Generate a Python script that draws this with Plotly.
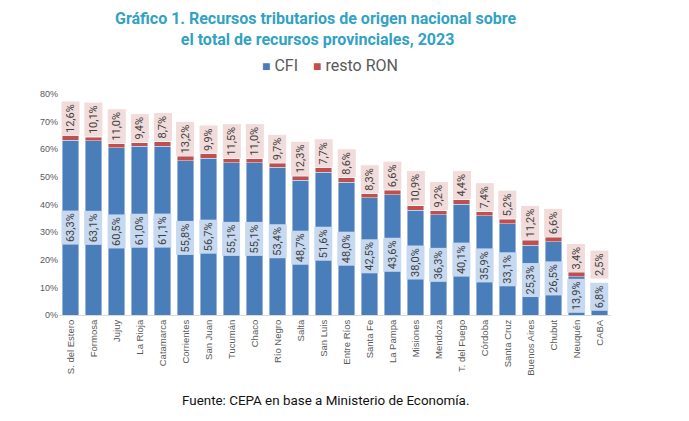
import plotly.graph_objects as go

# provincias ordenadas como en el grafico
provincias = ['S. del Estero', 'Formosa', 'Jujuy', 'La Rioja', 'Catamarca', 'Corrientes',
              'San Juan', 'Tucumán', 'Chaco', 'Río Negro', 'Salta', 'San Luis',
              'Entre Ríos', 'Santa Fe', 'La Pampa', 'Misiones', 'Mendoza', 'T. del Fuego',
              'Córdoba', 'Santa Cruz', 'Buenos Aires', 'Chubut', 'Neuquén', 'CABA']

# participacion CFI sobre recursos totales (%)
cfi = [63.3, 63.1, 60.5, 61.0, 61.1, 55.8, 56.7, 55.1, 55.1, 53.4, 48.7, 51.6,
       48.0, 42.5, 43.6, 38.0, 36.3, 40.1, 35.9, 33.1, 25.3, 26.5, 13.9, 6.8]

# resto RON (%), leido del alto del segmento rojo
resto_ron = [1.5, 1.3, 1.5, 1.4, 1.7, 1.6, 1.6, 1.5, 1.5, 1.5, 1.5, 1.7,
             1.7, 1.4, 1.6, 1.6, 1.5, 1.7, 1.5, 1.6, 1.7, 1.6, 1.5, 0.2]

# etiquetas que muestra el grafico original
etiquetas_cfi = ['63,3%', '63,1%', '60,5%', '61,0%', '61,1%', '55,8%', '56,7%', '55,1%',
                 '55,1%', '53,4%', '48,7%', '51,6%', '48,0%', '42,5%', '43,6%', '38,0%',
                 '36,3%', '40,1%', '35,9%', '33,1%', '25,3%', '26,5%', '13,9%', '6,8%']
etiquetas_ron = ['12,6%', '10,1%', '11,0%', '9,4%', '8,7%', '13,2%', '9,9%', '11,5%',
                 '11,0%', '9,7%', '12,3%', '7,7%', '8,6%', '8,3%', '6,6%', '10,9%',
                 '9,2%', '4,4%', '7,4%', '5,2%', '11,2%', '6,6%', '3,4%', '2,5%']

AZUL = '#4a7ebb'
ROJO = '#c0504d'
GRIS = '#595959'

fig = go.Figure()
fig.add_trace(go.Bar(x=provincias, y=cfi, name='CFI', marker_color=AZUL))
fig.add_trace(go.Bar(x=provincias, y=resto_ron, name='resto RON', marker_color=ROJO))

anotaciones = []
for prov, c, r, ec, er in zip(provincias, cfi, resto_ron, etiquetas_cfi, etiquetas_ron):
    y_cfi = max(c / 2, 6.6)
    anotaciones.append(dict(x=prov, y=y_cfi, text=ec, textangle=-90, showarrow=False,
                            xanchor='center', yanchor='middle', bgcolor='#c6d9f1',
                            height=13, borderpad=2,
                            font=dict(family='Roboto', size=11, color='#404040')))
    y_ron = max(c + r, y_cfi + 6.4)
    anotaciones.append(dict(x=prov, y=y_ron, text=er, textangle=-90, showarrow=False,
                            xanchor='center', yanchor='bottom', bgcolor='#f2dcdb',
                            height=13, borderpad=2,
                            font=dict(family='Roboto', size=11, color='#404040')))

# titulo, leyenda y fuente como anotaciones para no mover los margenes
anotaciones.append(dict(x=0.469, y=1.392, xref='paper', yref='paper', xanchor='center', yanchor='top',
                        text='<b>Gráfico 1. Recursos tributarios de origen nacional sobre <br>el total de recursos provinciales, 2023</b>',
                        showarrow=False,
                        font=dict(family='Roboto', size=16, color='#32a2c4')))
anotaciones.append(dict(x=0.364, y=1.131, xref='paper', yref='paper', xanchor='left', yanchor='middle',
                        text='<span style="color:%s;font-size:14px">■</span> CFI' % AZUL, showarrow=False,
                        font=dict(family='Roboto', size=16, color=GRIS)))
anotaciones.append(dict(x=0.456, y=1.131, xref='paper', yref='paper', xanchor='left', yanchor='middle',
                        text='<span style="color:%s;font-size:14px">■</span> resto RON' % ROJO, showarrow=False,
                        font=dict(family='Roboto', size=16, color=GRIS)))
anotaciones.append(dict(x=0.482, y=-0.385, xref='paper', yref='paper', xanchor='center', yanchor='middle',
                        text='Fuente: CEPA en base a Ministerio de Economía.', showarrow=False,
                        font=dict(family='Roboto', size=13.4, color='#111111')))

fig.update_layout(
    barmode='stack',
    bargap=0.28,
    width=681, height=413,
    margin=dict(l=51, r=78, t=86, b=106, autoexpand=False),
    paper_bgcolor='white', plot_bgcolor='white',
    showlegend=False,
    annotations=anotaciones,
)
fig.update_xaxes(tickangle=-90, showline=True, linecolor='#d9d9d9', ticks='', automargin=False,
                 tickfont=dict(family='Liberation Sans', size=9.5, color=GRIS))
fig.update_yaxes(range=[0, 80], dtick=10, ticksuffix='%', showgrid=False, zeroline=False, automargin=False,
                 tickfont=dict(family='Liberation Sans', size=9, color=GRIS))

fig.write_html("out.html")
